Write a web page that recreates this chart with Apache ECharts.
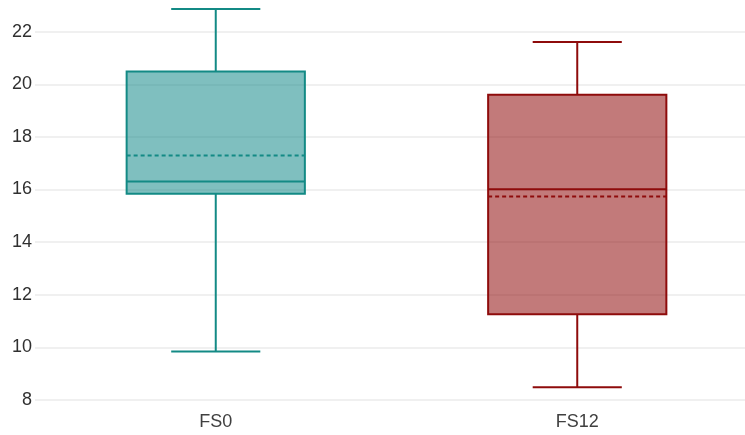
<!DOCTYPE html>
<html>
<head>
<meta charset="utf-8">
<script src="https://cdn.jsdelivr.net/npm/echarts@6/dist/echarts.min.js"></script>
<style>
  html, body { margin: 0; padding: 0; background: #ffffff; }
  #frame { width: 745px; height: 435px; overflow: hidden; position: relative; }
  #chart { width: 758px; height: 456px; position: absolute; left: 0; top: -21px; }
</style>
</head>
<body>
<div id="frame"><div id="chart"></div></div>
<script>
// Box summary per group
const categories = ['FS0', 'FS12'];
const minValues = [9.84, 8.48];
const q1Values = [15.84, 11.26];
const medianValues = [16.30, 16.01];
const q3Values = [20.48, 19.60];
const maxValues = [22.86, 21.61];
const meanValues = [17.29, 15.73];
const yTicks = [8, 10, 12, 14, 16, 18, 20, 22];

const lineColors = ['#138a85', '#8e0b0b'];
const fillColors = ['rgba(0,128,128,0.5)', 'rgba(139,0,0,0.52)'];

const boxData = categories.map((c, i) => [
  i, minValues[i], q1Values[i], medianValues[i], q3Values[i], maxValues[i], meanValues[i]
]);

function renderBox(params, api) {
  const idx = api.value(0);
  const band = api.size([1, 0])[0];
  const boxW = band * 0.493;
  const capW = boxW / 2;
  const pMin = api.coord([idx, api.value(1)]);
  const pQ1 = api.coord([idx, api.value(2)]);
  const pMed = api.coord([idx, api.value(3)]);
  const pQ3 = api.coord([idx, api.value(4)]);
  const pMax = api.coord([idx, api.value(5)]);
  const pMean = api.coord([idx, api.value(6)]);
  const cx = pMed[0];
  const stroke = lineColors[idx];
  const lineStyle = { stroke: stroke, lineWidth: 2, fill: null };
  return {
    type: 'group',
    children: [
      { type: 'line', shape: { x1: cx, y1: pQ3[1], x2: cx, y2: pMax[1] }, style: lineStyle },
      { type: 'line', shape: { x1: cx, y1: pQ1[1], x2: cx, y2: pMin[1] }, style: lineStyle },
      { type: 'line', shape: { x1: cx - capW / 2, y1: pMax[1], x2: cx + capW / 2, y2: pMax[1] }, style: lineStyle },
      { type: 'line', shape: { x1: cx - capW / 2, y1: pMin[1], x2: cx + capW / 2, y2: pMin[1] }, style: lineStyle },
      {
        type: 'rect',
        shape: { x: cx - boxW / 2, y: pQ3[1], width: boxW, height: pQ1[1] - pQ3[1] },
        style: { fill: fillColors[idx], stroke: stroke, lineWidth: 2 }
      },
      { type: 'line', shape: { x1: cx - boxW / 2, y1: pMed[1], x2: cx + boxW / 2, y2: pMed[1] }, style: lineStyle },
      {
        type: 'line',
        shape: { x1: cx - boxW / 2, y1: pMean[1], x2: cx + boxW / 2, y2: pMean[1] },
        style: { stroke: stroke, lineWidth: 2, lineDash: [4, 3], fill: null }
      }
    ]
  };
}

const chart = echarts.init(document.getElementById('chart'), null, { renderer: 'canvas' });
chart.setOption({
  animation: false,
  backgroundColor: '#ffffff',
  grid: { left: 35, right: 0, top: 0, bottom: 35, containLabel: false },
  xAxis: {
    type: 'category',
    data: categories,
    boundaryGap: true,
    axisLine: { show: false },
    axisTick: { show: false },
    axisLabel: { color: '#404040', fontSize: 18, fontFamily: 'Liberation Sans, Arial, sans-serif', margin: 13 },
    splitLine: { show: false }
  },
  yAxis: {
    type: 'value',
    min: 8,
    max: 24,
    interval: 2,
    axisLine: { show: false },
    axisTick: { show: false },
    axisLabel: {
      color: '#303030', fontSize: 18, fontFamily: 'Liberation Sans, Arial, sans-serif', margin: 3,
      formatter: v => (yTicks.indexOf(v) >= 0 ? String(v) : '')
    },
    splitLine: { show: true, lineStyle: { color: '#f0f0f0', width: 2 } }
  },
  series: [{
    type: 'custom',
    renderItem: renderBox,
    encode: { x: 0, y: [1, 2, 3, 4, 5, 6] },
    data: boxData
  }]
});
</script>
</body>
</html>
